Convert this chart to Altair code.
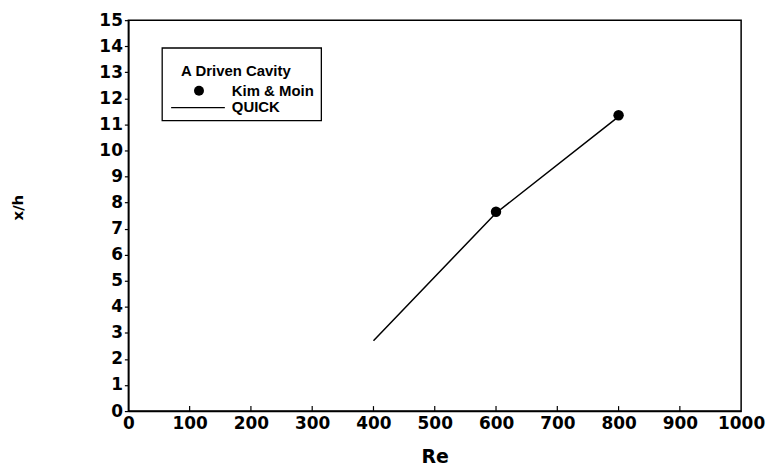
import altair as alt
import pandas as pd

# Data
re_quick = [400, 600, 800]
xh_quick = [2.7, 7.6, 11.3]
re_km = [600, 800]
xh_km = [7.65, 11.35]
x_ticks = list(range(0, 1001, 100))
y_ticks = list(range(0, 16))

W, H = 616, 393
FONT = "Liberation Sans"
AXFONT = "DejaVu Sans"

quick = pd.DataFrame({"Re": re_quick, "xh": xh_quick})
km = pd.DataFrame({"Re": re_km, "xh": xh_km})
xt = pd.DataFrame({"Re": x_ticks[1:-1]})
one = pd.DataFrame({"k": [0]})

xscale = alt.Scale(domain=[0, 1000], nice=False)
yscale = alt.Scale(domain=[0, 15], nice=False)

xaxis = alt.Axis(values=x_ticks, format="d", tickSize=0, labelPadding=5,
                 labelFont=AXFONT, labelFontSize=17,
                 labelFontWeight="bold", labelColor="black", labelFlush=False,
                 labelOverlap=False, title="Re", titleFont=AXFONT, titleFontSize=19,
                 titleFontWeight="bold", titleColor="black", titleY=46,
                 titleBaseline="middle", grid=False, domainColor="black",
                 domainWidth=1.5)
yaxis = alt.Axis(values=y_ticks, format="d", tickSize=4, tickColor="black", tickWidth=1.2,
                 labelPadding=2, labelFont=AXFONT, labelFontSize=17, labelFontWeight="bold",
                 labelColor="black", labelFlush=False, labelOverlap=False,
                 title="x/h", titleFont=AXFONT, titleFontSize=15, titleFontWeight="bold",
                 titleColor="black", titleX=-111, titleY=188, titleAngle=-90,
                 titleAlign="center", titleBaseline="middle", grid=False,
                 domainColor="black", domainWidth=1.5)

base_line = alt.Chart(quick).mark_line(color="black", strokeWidth=1.5).encode(
    x=alt.X("Re:Q", scale=xscale, axis=xaxis),
    y=alt.Y("xh:Q", scale=yscale, axis=yaxis),
)
points = alt.Chart(km).mark_circle(color="black", size=110, opacity=1).encode(
    x=alt.X("Re:Q", scale=xscale, axis=xaxis),
    y=alt.Y("xh:Q", scale=yscale, axis=yaxis),
)
inner_ticks = alt.Chart(xt).mark_rule(color="black", strokeWidth=1.2).encode(
    x=alt.X("Re:Q", scale=xscale, axis=xaxis),
    y=alt.value(H),
    y2=alt.value(H - 5),
)

# Legend box drawn by hand
leg_box = alt.Chart(one).mark_rect(fill="white", stroke="black", strokeWidth=1.3).encode(
    x=alt.value(34), x2=alt.value(194), y=alt.value(28), y2=alt.value(101)
)
leg_title = alt.Chart(one).mark_text(
    text="A Driven Cavity", font=FONT, fontSize=15, fontWeight="bold",
    align="left", baseline="middle", color="black"
).encode(x=alt.value(53), y=alt.value(51))
leg_dot = alt.Chart(one).mark_circle(color="black", size=100, opacity=1).encode(
    x=alt.value(71), y=alt.value(71)
)
leg_km = alt.Chart(one).mark_text(
    text="Kim & Moin", font=FONT, fontSize=15, fontWeight="bold",
    align="left", baseline="middle", color="black"
).encode(x=alt.value(104), y=alt.value(71))
leg_line = alt.Chart(one).mark_rule(color="black", strokeWidth=1.3).encode(
    x=alt.value(43), x2=alt.value(97), y=alt.value(88)
)
leg_quick = alt.Chart(one).mark_text(
    text="QUICK", font=FONT, fontSize=15, fontWeight="bold",
    align="left", baseline="middle", color="black"
).encode(x=alt.value(104), y=alt.value(87))

chart = alt.layer(
    base_line, points, inner_ticks,
    leg_box, leg_title, leg_dot, leg_km, leg_line, leg_quick
).properties(
    width=W, height=H,
    autosize=alt.AutoSizeParams(type="none"),
    padding={"left": 121, "top": 11, "right": 25, "bottom": 55},
    background="white",
).configure(
    font=FONT,
).configure_view(
    stroke="black", strokeWidth=1.5
)

chart.save("out.html", embed_options={"renderer": "svg", "actions": False})
